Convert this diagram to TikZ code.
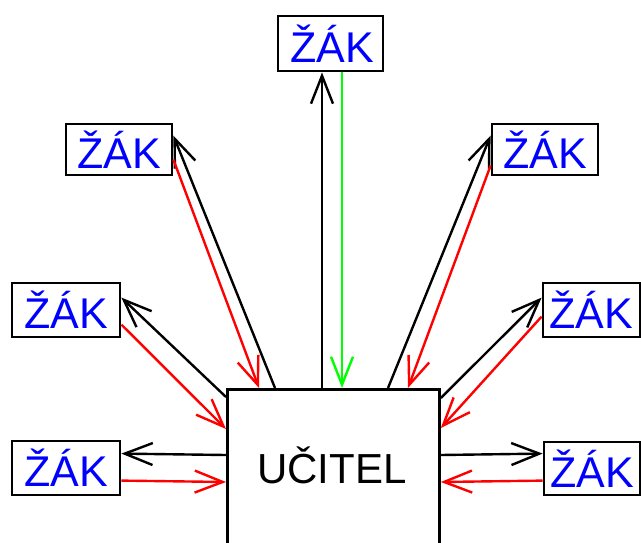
\documentclass[tikz,border=0pt]{standalone}
\usepackage{fontspec}
\setmainfont{Liberation Sans}
\usetikzlibrary{arrows.meta,calc}
\definecolor{zblue}{RGB}{0,0,255}
\definecolor{zred}{RGB}{255,0,0}
\definecolor{zgreen}{RGB}{0,255,0}
\tikzset{
  pupil/.style={draw=black, line width=2.8pt, fill=white, inner sep=0pt,
    minimum height=#1, text=zblue, font=\fontsize{43}{43}\selectfont},
  pupil/.default=53pt,
  link/.style={line width=2.4pt, -{Straight Barb[length=28pt,width=22pt,line width=2.4pt]}},
  ask/.style={link, draw=black},
  answer/.style={link, draw=zred},
  listen/.style={link, draw=zgreen},
}
\begin{document}
\begin{tikzpicture}[x=1pt,y=-1pt]
\path[use as bounding box] (0,0) rectangle (641,542);
\clip (0,0) rectangle (641,542);
\fill[white] (0,0) rectangle (641,542);

% teacher box (runs off the lower edge) and its label
\node[draw=black, line width=2.8pt, minimum width=212pt, minimum height=260pt,
  anchor=north west, inner sep=0pt] (u) at (226,388) {};
\node[font=\fontsize{42}{42}\selectfont, inner sep=0pt] (ut) at (332,465) {UČITEL};

% pupils
\node[pupil=55pt, minimum width=105pt] (zt)  at (330.5,43.5) {\hspace*{3pt}ŽÁK};
\node[pupil=51pt, minimum width=106pt] (zl1) at (119,149.5) {ŽÁK};
\node[pupil=54pt, minimum width=108pt] (zl2) at (66,310) {ŽÁK};
\node[pupil=54pt, minimum width=108pt] (zl3) at (66,468) {ŽÁK};
\node[pupil=51pt, minimum width=106pt] (zr1) at (545,149.5) {ŽÁK};
\node[pupil=54pt, minimum width=97pt]  (zr2) at (591.5,310) {ŽÁK};
\node[pupil=53pt, minimum width=96pt]  (zr3) at (592,468.5) {ŽÁK};

% top pupil
\draw[ask]    ($(u.north west)+(96,0)$) -- ($(zt.south)+(-8.5,0)$);
\draw[listen] ($(zt.south)+(11.5,0)$) -- ($(u.north west)+(116,0)$);

% upper left
\draw[ask]    ($(u.north west)+(49,0)$) -- ($(zl1.north east)+(0,13)$);
\draw[answer] ($(zl1.north east)+(0,37)$) -- ($(u.north west)+(33,0)$);

% middle left
\draw[ask]    ($(u.north west)+(0,9)$) -- ($(zl2.north east)+(0,16)$);
\draw[answer] ($(zl2.north east)+(0,43)$) -- ($(u.north west)+(0,41)$);

% lower left
\draw[ask]    ($(u.north west)+(0,67)$) -- ($(zl3.north east)+(0,14)$);
\draw[answer] ($(zl3.north east)+(0,41)$) -- ($(u.north west)+(0,94)$);

% upper right
\draw[ask]    ($(u.north west)+(162,0)$) -- ($(zr1.north west)+(0,13)$);
\draw[answer] ($(zr1.north west)+(0,43)$) -- ($(u.north west)+(182,0)$);

% middle right
\draw[ask]    ($(u.north east)+(0,10)$) -- ($(zr2.north west)+(0,16)$);
\draw[answer] ($(zr2.north west)+(0,35)$) -- ($(u.north east)+(0,40)$);

% lower right
\draw[ask]    ($(u.north east)+(0,67)$) -- ($(zr3.north west)+(0,13)$);
\draw[answer] ($(zr3.north west)+(0,40)$) -- ($(u.north east)+(0,94)$);
\end{tikzpicture}
\end{document}
